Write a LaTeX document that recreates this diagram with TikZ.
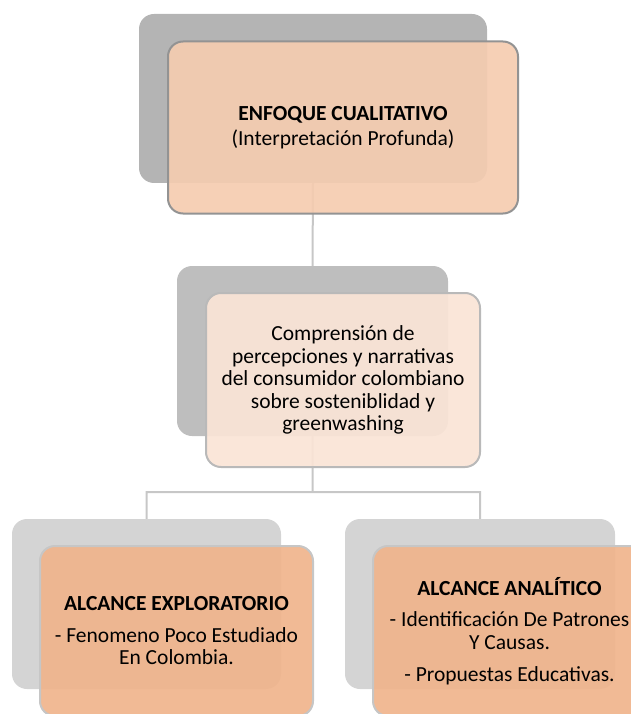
\documentclass[tikz,border=0pt]{standalone}
\usepackage{fontspec}
\setmainfont{Carlito}
\usepackage{tikz}
\usetikzlibrary{positioning}
\definecolor{backA}{RGB}{180,180,180}
\definecolor{backB}{RGB}{190,190,190}
\definecolor{backC}{RGB}{212,212,212}
\definecolor{peachA}{RGB}{245,204,176}
\definecolor{peachB}{RGB}{250,228,214}
\definecolor{peachC}{RGB}{240,180,140}
\tikzset{
  box/.style={
    rectangle,
    rounded corners=15pt,
    align=center,
    font=\fontsize{21.5}{22.5}\selectfont},
  backbox/.style={box, fill=#1},
  frontbox/.style={box, fill=#1, fill opacity=0.92, text opacity=1,
    draw=gray!75, line width=2pt},
  link/.style={draw=black!22, line width=2pt}
  }
\begin{document}
\begin{tikzpicture}[x=1pt,y=-1pt]
  \clip (0,0) rectangle (631,714);
  % shadows behind the cards
  \node[backbox=backA, minimum width=348pt, minimum height=169pt] (qb) at (313,98.5) {};
  \node[backbox=backB, minimum width=271pt, minimum height=170pt] (cb) at (312.5,351) {};
  \node[backbox=backC, minimum width=269pt, minimum height=170pt] (eb) at (146.5,604) {};
  \node[backbox=backC, minimum width=270pt, minimum height=170pt] (ab) at (480,604) {};
  \coordinate (j) at (312.5,492);
  \draw [link]
    (qb.south) -- (cb.north)
    (cb.south) -- (j)
    (eb.north) |- (j) -| (ab.north);
  % cards
  \node[frontbox=peachA, draw=gray!85, minimum width=350pt, minimum height=172pt] (q) at (343,127.5)
    {\textbf{ENFOQUE CUALITATIVO}\\[2pt](Interpretación Profunda)};
  \node[frontbox=peachB, draw=gray!55, minimum width=274pt, minimum height=174pt] (c) at (343,380)
    {Comprensión de\\percepciones y narrativas\\del consumidor colombiano\\sobre sosteniblidad y\\greenwashing};
  \node[frontbox=peachC, draw=gray!45, minimum width=273pt, minimum height=170pt] (e) at (176.5,631)
    {\textbf{ALCANCE EXPLORATORIO}\\[9pt]- Fenomeno Poco Estudiado\\En Colombia.};
  \node[frontbox=peachC, draw=gray!45, minimum width=273pt, minimum height=170pt] (a) at (509.5,631)
    {\textbf{ALCANCE ANALÍTICO}\\[9pt]- Identificación De Patrones\\Y Causas.\\[10pt]- Propuestas Educativas.};
\end{tikzpicture}
\end{document}
